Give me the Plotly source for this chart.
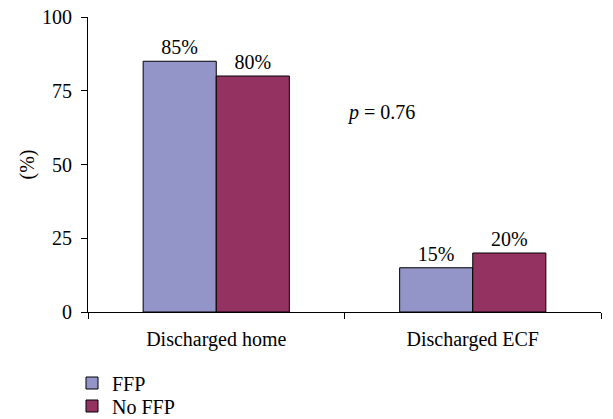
import plotly.graph_objects as go

categories = ["Discharged home", "Discharged ECF"]
ffp = [85, 15]
no_ffp = [80, 20]
y_ticks = [0, 25, 50, 75, 100]

FONT = "Liberation Serif"
W, H = 613, 419

fig = go.Figure()
fig.add_trace(go.Bar(
    name="FFP", x=categories, y=ffp,
    text=[f"{v}%" for v in ffp], textposition="outside",
    marker=dict(color="#9394C8", line=dict(color="#000000", width=1)),
    textfont=dict(family=FONT, size=20, color="#000"),
    cliponaxis=False, legend="legend",
))
fig.add_trace(go.Bar(
    name="No FFP", x=categories, y=no_ffp,
    text=[f"{v}%" for v in no_ffp], textposition="outside",
    marker=dict(color="#943262", line=dict(color="#000000", width=1)),
    textfont=dict(family=FONT, size=20, color="#000"),
    cliponaxis=False, legend="legend2",
))

# significance note between the groups
fig.add_annotation(
    x=0.5, y=67.5, xref="paper", yref="y",
    xanchor="left", yanchor="middle",
    text="<i>p</i> = 0.76", showarrow=False,
    font=dict(family=FONT, size=20, color="#000"),
)

# y-axis title
fig.add_annotation(
    x=-0.117, y=0.5, xref="paper", yref="paper",
    xanchor="center", yanchor="middle", textangle=-90,
    text="(%)", showarrow=False,
    font=dict(family=FONT, size=20, color="#000"),
)

legend_common = dict(
    xref="container", yref="container",
    x=72 / W, xanchor="left", yanchor="middle",
    font=dict(family=FONT, size=20, color="#000"),
    itemwidth=30, bgcolor="rgba(0,0,0,0)",
)

fig.update_layout(
    width=W, height=H,
    margin=dict(l=88, r=12, t=17, b=107, autoexpand=False),
    paper_bgcolor="white", plot_bgcolor="white",
    barmode="group", bargap=0.43, bargroupgap=0,
    font=dict(family=FONT, size=20, color="#000"),
    showlegend=True,
    legend=dict(y=1 - 383 / H, **legend_common),
    legend2=dict(y=1 - 406 / H, **legend_common),
    xaxis=dict(
        type="category", showline=True, linecolor="#000", linewidth=1,
        ticks="outside", tickson="boundaries", ticklen=6, tickcolor="#000",
        showgrid=False, zeroline=False, ticklabelstandoff=9,
        tickfont=dict(family=FONT, size=20),
    ),
    yaxis=dict(
        range=[0, 100], tickvals=y_ticks, showline=True, linecolor="#000",
        linewidth=1, ticks="outside", ticklen=6, tickcolor="#000",
        showgrid=False, zeroline=False, ticklabelstandoff=5,
        tickfont=dict(family=FONT, size=20),
    ),
)

fig.write_html("out.html")
